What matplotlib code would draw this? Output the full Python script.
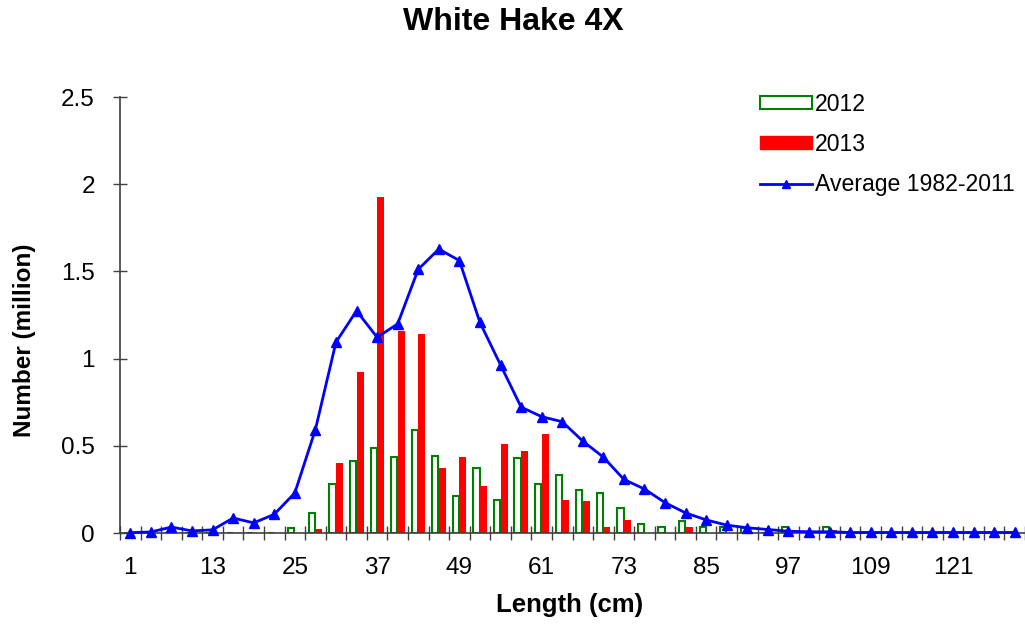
import matplotlib
matplotlib.use("Agg")
import matplotlib.pyplot as plt
import numpy as np
from matplotlib.patches import Patch
from matplotlib.lines import Line2D

plt.rcParams['font.family'] = ['Liberation Sans', 'DejaVu Sans']

lengths = list(range(1, 131, 3))  # 1..130, 44 classes

y2012 = [0, 0, 0, 0, 0, 0, 0, 0, 0.031, 0.112, 0.283, 0.415, 0.488, 0.435, 0.592,
         0.443, 0.21, 0.37, 0.187, 0.43, 0.283, 0.333, 0.245, 0.231, 0.142, 0.053,
         0.037, 0.067, 0.037, 0.035, 0.027, 0, 0.035, 0, 0.035, 0, 0, 0, 0, 0, 0, 0, 0, 0]
y2013 = [0, 0, 0, 0, 0, 0, 0, 0, 0, 0.022, 0.403, 0.923, 1.925, 1.156, 1.143,
         0.371, 0.433, 0.27, 0.513, 0.469, 0.565, 0.19, 0.183, 0.036, 0.072, 0,
         0, 0.036, 0, 0, 0, 0, 0, 0, 0.02, 0, 0, 0, 0, 0, 0, 0, 0, 0]
avg = [0.002, 0.006, 0.034, 0.012, 0.018, 0.086, 0.058, 0.107, 0.23, 0.593, 1.094,
       1.274, 1.122, 1.199, 1.512, 1.628, 1.562, 1.207, 0.964, 0.722, 0.667, 0.638,
       0.527, 0.435, 0.307, 0.252, 0.174, 0.115, 0.075, 0.045, 0.03, 0.02, 0.01,
       0.007, 0.007, 0.003, 0.003, 0.003, 0.003, 0.003, 0.003, 0.003, 0.003, 0.003]

fig = plt.figure(figsize=(10.25, 6.24), dpi=100)
ax = fig.add_axes([120/1025, (624-533)/624, 905/1025, (533-97)/624])

x = np.arange(len(lengths))
w = 0.3
ax.bar(x - 0.17, y2012, width=w, facecolor='white', edgecolor='#008000', linewidth=1.5, zorder=2)
ax.bar(x + 0.17, y2013, width=w + 0.04, color='#FF0000', linewidth=0, zorder=2)
ax.plot(x, avg, color='#0000FF', lw=2, marker='^', markersize=7.5, zorder=3, clip_on=False)

ax.set_xlim(-0.5, len(lengths) - 0.5)
ax.set_ylim(0, 2.5)
ax.set_yticks([0, 0.5, 1, 1.5, 2, 2.5])
ax.set_yticklabels(['0', '0.5', '1', '1.5', '2', '2.5'])

# category labels every 4th class, tick marks between categories
ax.set_xticks(x[::4])
ax.set_xticklabels([str(v) for v in lengths[::4]])
ax.set_xticks(np.arange(-0.5, len(lengths) + 0.5, 1), minor=True)
ax.tick_params(axis='x', which='major', length=0, labelsize=17.5, pad=17.5, colors='black')
ax.tick_params(axis='x', which='minor', length=10, direction='inout', color='#404040', width=1)
ax.tick_params(axis='y', which='major', length=10, direction='inout', labelsize=17.5, pad=13,
               color='#404040', width=1)

for s in ['top', 'right']:
    ax.spines[s].set_visible(False)
for s in ['left', 'bottom']:
    ax.spines[s].set_color('#404040')
    ax.spines[s].set_linewidth(1.2)

ax.set_xlabel('Length (cm)', fontsize=18.5, fontweight='bold', va='center')
ax.xaxis.set_label_coords((570 - 120) / 905, -(605 - 533) / 436)
ax.set_ylabel('Number (million)', fontsize=17.5, fontweight='bold', va='center')
ax.yaxis.set_label_coords(-(120 - 25) / 905, (533 - 340) / 436)
fig.text(513/1025, 1 - 22/624, 'White Hake 4X', ha='center', va='center', fontsize=23, fontweight='bold')

handles = [Patch(facecolor='white', edgecolor='#008000', linewidth=1.5),
           Patch(facecolor='#FF0000', edgecolor='#FF0000'),
           Line2D([0], [0], color='#0000FF', lw=2, marker='^', markersize=6)]
leg = fig.legend(handles, ['2012', '2013', 'Average 1982-2011'], loc='upper left',
                 bbox_to_anchor=(739/1025, 1 - 72/624), frameon=False, fontsize=16.6,
                 handlelength=2.25, handleheight=0.45, handletextpad=0.15, labelspacing=0.74)

fig.savefig('out.png', dpi=100)
